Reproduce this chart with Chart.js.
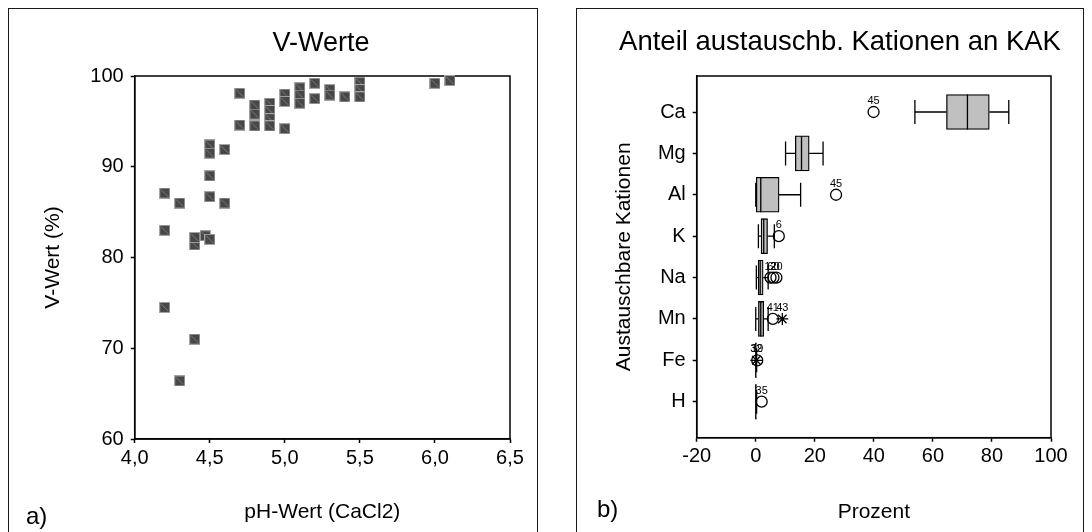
<!DOCTYPE html>
<html lang="de">
<head>
<meta charset="UTF-8">
<title>V-Werte und austauschbare Kationen</title>
<script src="https://cdn.jsdelivr.net/npm/chart.js"></script>
<style>
  body { margin: 0; width: 1092px; height: 532px; overflow: hidden; background: #fff; position: relative;
         font-family: "Liberation Sans", Arial, sans-serif; }
  .rahmen { position: absolute; border: 1.3px solid #1a1a1a; box-sizing: border-box; }
  .diagramm { position: absolute; top: 10px; height: 522px; }
  .marke { position: absolute; font-size: 24px; line-height: 1; color: #000; }
</style>
</head>
<body>
<div class="rahmen" style="left:8px; top:8px; width:530px; height:540px"></div>
<div class="rahmen" style="left:576px; top:8px; width:508px; height:540px"></div>
<div class="diagramm" style="left:9px; width:624px"><canvas id="grafikA"></canvas></div>
<div class="diagramm" style="left:578px; width:524px"><canvas id="grafikB"></canvas></div>
<div class="marke" style="left:26px; top:504px">a)</div>
<div class="marke" style="left:597px; top:497px">b)</div>

<script>
// a) V-Wert gegen pH-Wert (CaCl2)
const phWerte = [4.2, 4.2, 4.2, 4.3, 4.3, 4.4, 4.4, 4.47, 4.5, 4.4,
                 4.5, 4.5, 4.5, 4.5, 4.6, 4.6, 4.7, 4.7, 4.8, 4.8,
                 4.8, 4.9, 4.9, 4.9, 4.9, 5.0, 5.0, 5.0, 5.1, 5.1,
                 5.1, 5.2, 5.2, 5.3, 5.3, 5.4, 5.5, 5.5, 5.5, 6.0, 6.1];
const vWerte  = [87.1, 83.0, 74.5, 86.0, 66.4, 81.4, 82.2, 82.4, 82.0, 71.0,
                 89.0, 86.7, 92.4, 91.5, 91.9, 86.0, 98.1, 94.6, 96.8, 95.8,
                 94.5, 97.0, 96.2, 95.3, 94.5, 98.0, 97.2, 94.2, 98.7, 97.9,
                 97.0, 99.2, 97.5, 98.5, 97.9, 97.7, 99.3, 98.5, 97.7, 99.2, 99.5];
const phTicks = [4.0, 4.5, 5.0, 5.5, 6.0, 6.5];
const vTicks  = [60, 70, 80, 90, 100];

// b) Anteil austauschbarer Kationen an der KAK (Prozent)
const kationen    = ['Ca', 'Mg', 'Al', 'K', 'Na', 'Mn', 'Fe', 'H'];
const minWerte    = [53.9, 10.1, 0.0, 0.9, 0.2, 0.0, 0.0, 0.0];
const q1Werte     = [64.6, 13.4, 0.0, 1.8, 0.8, 0.9, 0.0, 0.0];
const medianWerte = [71.7, 15.5, 1.7, 2.7, 1.5, 1.7, 0.0, 0.0];
const q3Werte     = [79.1, 18.1, 7.9, 4.0, 2.5, 2.7, 0.1, 0.1];
const maxWerte    = [85.7, 22.8, 15.2, 6.3, 4.2, 4.2, 0.3, 0.3];
// Ausreisser: Kation (Index), Wert, Fallnummer, Extremwert (Stern)
const ausKation = [0, 2, 3, 4, 4, 4, 5, 5, 6, 6, 7];
const ausWert   = [39.9, 27.2, 7.8, 5.0, 7.0, 6.0, 5.8, 9.0, 0.5, 0.2, 2.0];
const ausFall   = ['45', '45', '6', '12', '20', '60', '41', '43', '19', '32', '35'];
const ausExtrem = [false, false, false, false, false, false, false, true, false, true, false];
const prozentTicks = [-20, 0, 20, 40, 60, 80, 100];

Chart.defaults.font.family = '"Liberation Sans", Arial, sans-serif';
Chart.defaults.color = '#000';

// dunkles Quadrat als Punktsymbol
const quadrat = document.createElement('canvas');
quadrat.width = 11; quadrat.height = 11;
const q = quadrat.getContext('2d');
q.fillStyle = '#474747';
q.fillRect(0, 0, 11, 11);
q.strokeStyle = '#a3a3a3';
q.lineWidth = 1;
q.strokeRect(0.5, 0.5, 10, 10);
q.strokeStyle = '#7c7c7c';
q.beginPath(); q.moveTo(2, 2); q.lineTo(9, 9); q.stroke();

// Rahmen um die Zeichenflaeche
const plotRahmen = {
  id: 'plotRahmen',
  beforeDatasetsDraw(chart) {
    const { ctx, chartArea: a } = chart;
    ctx.save();
    ctx.strokeStyle = '#000';
    ctx.lineWidth = 1.5;
    ctx.strokeRect(a.left, a.top, a.right - a.left, a.bottom - a.top);
    ctx.restore();
  }
};

const achse = (extra) => Object.assign({
  type: 'linear',
  offset: false,
  grid: { drawOnChartArea: false, offset: false, tickLength: 4, tickColor: '#000', tickWidth: 1.5 },
  border: { color: '#000', width: 1.5 }
}, extra);

// leere Achse rechts, haelt nur Platz frei (Titel wird ueber die volle Breite zentriert)
const rechterRand = (breite) => ({
  type: 'linear', position: 'right', display: true,
  ticks: { display: false }, grid: { display: false }, border: { display: false },
  afterFit: s => { s.width = breite; }
});

const tickListe = (werte) => (s) => { s.ticks = werte.map(v => ({ value: v })); };

new Chart(document.getElementById('grafikA'), {
  type: 'scatter',
  data: {
    datasets: [{
      data: phWerte.map((x, i) => ({ x: x, y: vWerte[i] })),
      pointStyle: quadrat,
      pointRadius: 5.5,
      clip: false
    }]
  },
  options: {
    responsive: true,
    maintainAspectRatio: false,
    animation: false,
    events: [],
    layout: { padding: 0 },
    plugins: {
      legend: { display: false },
      tooltip: { enabled: false },
      title: { display: true, text: 'V-Werte', font: { size: 27, weight: 'normal' }, color: '#000',
               padding: { top: 17.8, bottom: 15.8 } }
    },
    scales: {
      x: achse({
        min: 4, max: 6.5,
        afterBuildTicks: tickListe(phTicks),
        ticks: { font: { size: 20 }, padding: 3, maxRotation: 0,
                 callback: v => v.toFixed(1).replace('.', ',') },
        title: { display: true, text: 'pH-Wert (CaCl2)', font: { size: 21 }, padding: { top: 0, bottom: 7 } },
        afterFit: s => { s.height = 93; }
      }),
      y: achse({
        min: 60, max: 100,
        afterBuildTicks: tickListe(vTicks),
        ticks: { font: { size: 20 }, padding: 7 },
        title: { display: true, text: 'V-Wert (%)', font: { size: 21 }, padding: { top: 31.4, bottom: 0 } },
        afterFit: s => { s.width = 125.7; }
      }),
      rand: rechterRand(123)
    }
  },
  plugins: [plotRahmen]
});

// Whisker, Median und Fallnummern der Boxplots
const boxLinien = {
  id: 'boxLinien',
  afterDatasetsDraw(chart) {
    const { ctx } = chart;
    const xs = chart.scales.x, ys = chart.scales.y;
    ctx.save();
    ctx.strokeStyle = '#000';
    ctx.lineWidth = 1.3;
    kationen.forEach((k, i) => {
      const y = ys.getPixelForValue(i);
      const xMin = xs.getPixelForValue(minWerte[i]);
      const xQ1 = xs.getPixelForValue(q1Werte[i]);
      const xMed = xs.getPixelForValue(medianWerte[i]);
      const xQ3 = xs.getPixelForValue(q3Werte[i]);
      const xMax = xs.getPixelForValue(maxWerte[i]);
      ctx.beginPath();
      ctx.moveTo(xMin, y); ctx.lineTo(xQ1, y);
      ctx.moveTo(xQ3, y); ctx.lineTo(xMax, y);
      ctx.moveTo(xMin, y - 12); ctx.lineTo(xMin, y + 12);
      ctx.moveTo(xMax, y - 12); ctx.lineTo(xMax, y + 12);
      ctx.moveTo(xMed, y - 17.5); ctx.lineTo(xMed, y + 17.5);
      ctx.stroke();
    });
    ctx.fillStyle = '#000';
    ctx.font = '11px "Liberation Sans", Arial, sans-serif';
    ctx.textAlign = 'center';
    ctx.textBaseline = 'alphabetic';
    ausWert.forEach((w, i) => {
      ctx.fillText(ausFall[i], xs.getPixelForValue(w), ys.getPixelForValue(ausKation[i]) - 8);
    });
    ctx.restore();
  }
};

new Chart(document.getElementById('grafikB'), {
  type: 'scatter',
  data: {
    datasets: [{
      type: 'bar',
      indexAxis: 'y',
      data: kationen.map((k, i) => ({ x: [q1Werte[i], q3Werte[i]], y: i })),
      backgroundColor: '#c0c0c0',
      borderColor: '#000',
      borderWidth: 1.3,
      borderSkipped: false,
      barThickness: 35
    }, {
      type: 'scatter',
      data: ausWert.map((w, i) => ({ x: w, y: ausKation[i] })),
      pointStyle: ausExtrem.map(e => e ? 'star' : 'circle'),
      pointRadius: ausExtrem.map(e => e ? 6 : 5.5),
      backgroundColor: 'rgba(0,0,0,0)',
      borderColor: '#000',
      borderWidth: 1.3,
      clip: false
    }]
  },
  options: {
    responsive: true,
    maintainAspectRatio: false,
    animation: false,
    events: [],
    layout: { padding: 0 },
    plugins: {
      legend: { display: false },
      tooltip: { enabled: false },
      title: { display: true, text: 'Anteil austauschb. Kationen an KAK', font: { size: 27.5, weight: 'normal' },
               color: '#000', padding: { top: 15.8, bottom: 17.2 } }
    },
    scales: {
      x: achse({
        min: -20, max: 100,
        afterBuildTicks: tickListe(prozentTicks),
        ticks: { font: { size: 20 }, padding: 3, maxRotation: 0 },
        title: { display: true, text: 'Prozent', font: { size: 21 }, padding: { top: 0, bottom: 7 } },
        afterFit: s => { s.height = 94.3; }
      }),
      y: achse({
        reverse: true,
        min: -0.87, max: 7.87,
        afterBuildTicks: tickListe(kationen.map((k, i) => i)),
        ticks: { font: { size: 20 }, padding: 7, callback: v => kationen[v] },
        title: { display: true, text: 'Austauschbare Kationen', font: { size: 21 }, padding: { top: 33.4, bottom: 0 } },
        afterFit: s => { s.width = 118.7; }
      }),
      rand: rechterRand(51)
    }
  },
  plugins: [plotRahmen, boxLinien]
});
</script>
</body>
</html>
